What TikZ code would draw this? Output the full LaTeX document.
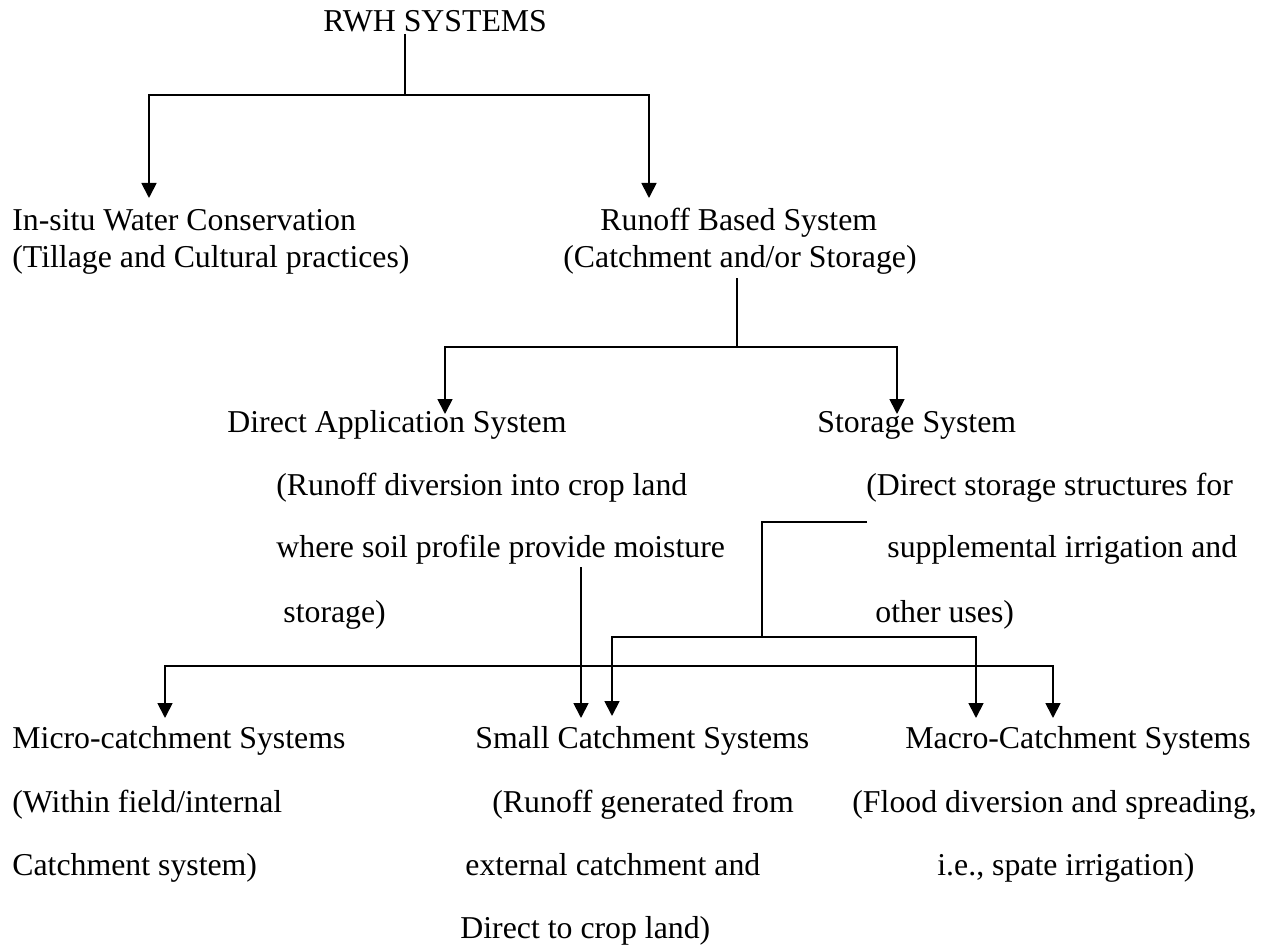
\documentclass[tikz,border=0pt]{standalone}
\usepackage{fontspec}
\setmainfont{Liberation Serif}
\usetikzlibrary{arrows.meta}
\tikzset{
  txt/.style={anchor=base west,inner sep=0pt,font=\fontsize{15.9}{19}\selectfont},
  arr/.style={-{Triangle[length=7.5pt,width=7.5pt]},line width=0.9pt},
  ln/.style={line width=0.9pt},
}

\begin{document}
\begin{tikzpicture}[x=0.5pt,y=-0.5pt]
 \useasboundingbox (0,0) rectangle (1265,947);
 % level 0
 \node[txt] (rwh) at (323,32) {RWH SYSTEMS};
 % level 1
 \node[txt] (insitu) at (12,231) {In-situ Water Conservation};
 \node[txt] (insitub) at (12,268) {(Tillage and Cultural practices)};
 \node[txt] (runoff) at (600,231) {Runoff Based System};
 \node[txt] (runoffb) at (563,268) {(Catchment and/or Storage)};
 % level 2
 \node[txt] (direct) at (227,432) {Direct Application System};
 \node[txt] (directb) at (276,495) {(Runoff diversion into crop land};
 \node[txt] (directc) at (276,557) {where soil profile provide moisture};
 \node[txt] (directd) at (283,622) {storage)};
 \node[txt] (stor) at (817,432) {Storage System};
 \node[txt] (storb) at (866,495) {(Direct storage structures for};
 \node[txt] (storc) at (887,557) {supplemental irrigation and};
 \node[txt] (stord) at (875,622) {other uses)};
 % level 3
 \node[txt] (micro) at (12,748) {Micro-catchment Systems};
 \node[txt] (microb) at (12,812) {(Within field/internal};
 \node[txt] (microc) at (12,875) {Catchment system)};
 \node[txt] (small) at (475,748) {Small Catchment Systems};
 \node[txt] (smallb) at (492,812) {(Runoff generated from};
 \node[txt] (smallc) at (465,875) {external catchment and};
 \node[txt] (smalld) at (460,938) {Direct to crop land)};
 \node[txt] (macro) at (905,748) {Macro-Catchment Systems};
 \node[txt] (macrob) at (852,812) {(Flood diversion and spreading,};
 \node[txt] (macroc) at (937,875) {i.e., spate irrigation)};
 % junctions and arrow ends
 \coordinate (s0) at (405,34);  \coordinate (b0) at (405,95);
 \coordinate (t1) at (149,198); \coordinate (t2) at (649,198);
 \coordinate (s1) at (737,278); \coordinate (b1) at (737,347);
 \coordinate (t3) at (445,414); \coordinate (t4) at (897,414);
 \coordinate (s2) at (581,567); \coordinate (b2) at (581,666);
 \coordinate (t5) at (165,718); \coordinate (t6) at (581,718); \coordinate (t7) at (1053,718);
 \coordinate (s3) at (867,522); \coordinate (b3) at (762,637);
 \coordinate (t8) at (612,716); \coordinate (t9) at (976,718);
 % connectors
 \draw[ln] (s0) -- (b0);
 \draw[arr] (b0) -| (t1);
 \draw[arr] (b0) -| (t2);
 \draw[ln] (s1) -- (b1);
 \draw[arr] (b1) -| (t3);
 \draw[arr] (b1) -| (t4);
 \draw[arr] (s2) -- (t6);
 \draw[arr] (b2) -| (t5);
 \draw[arr] (b2) -| (t7);
 \draw[ln] (s3) -| (b3);
 \draw[arr] (b3) -| (t8);
 \draw[arr] (b3) -| (t9);
\end{tikzpicture}
\end{document}
